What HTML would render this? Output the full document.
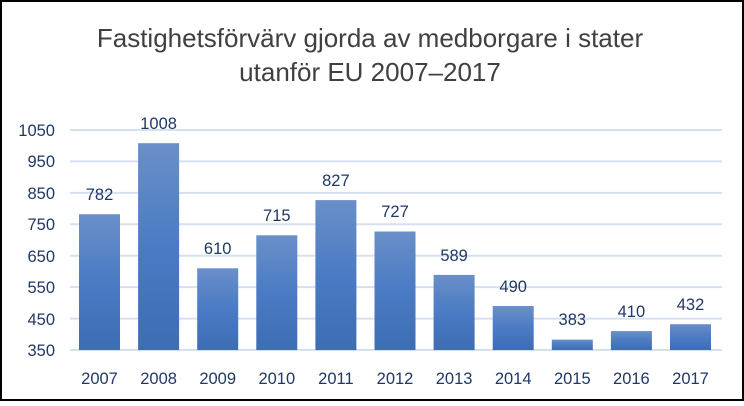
<!DOCTYPE html><html><head><style>body{margin:0}</style></head><body>
<svg width="744" height="401" xmlns="http://www.w3.org/2000/svg" font-family="Liberation Sans, sans-serif">
<defs><linearGradient id="g" x1="0" y1="0" x2="0" y2="1"><stop offset="0" stop-color="#6a8fc8"/><stop offset="0.5" stop-color="#4a7bc4"/><stop offset="1" stop-color="#3d6db3"/></linearGradient></defs>
<rect x="1" y="1" width="742" height="399" fill="#fff" stroke="#000" stroke-width="2"/>
<text x="370" y="47" text-anchor="middle" font-size="26" fill="#404040">Fastighetsförvärv gjorda av medborgare i stater</text>
<text x="370" y="81" text-anchor="middle" font-size="26" fill="#404040">utanför EU 2007–2017</text>
<g stroke="#d6e1f0" stroke-width="2">
<line x1="70" x2="722" y1="130" y2="130"/><line x1="70" x2="722" y1="161.4" y2="161.4"/><line x1="70" x2="722" y1="192.9" y2="192.9"/><line x1="70" x2="722" y1="224.3" y2="224.3"/><line x1="70" x2="722" y1="255.7" y2="255.7"/><line x1="70" x2="722" y1="287.1" y2="287.1"/><line x1="70" x2="722" y1="318.6" y2="318.6"/><line x1="70" x2="722" y1="350" y2="350"/>
</g>
<g font-size="16.5" fill="#1f3864" text-anchor="end">
<text x="55" y="136">1050</text><text x="55" y="167">950</text><text x="55" y="199">850</text><text x="55" y="230">750</text><text x="55" y="262">650</text><text x="55" y="293">550</text><text x="55" y="325">450</text><text x="55" y="356">350</text>
</g>
<g fill="url(#g)">
<rect x="79" y="214.2" width="41" height="135.8"/>
<rect x="138.1" y="143.2" width="41" height="206.8"/>
<rect x="197.2" y="268.3" width="41" height="81.7"/>
<rect x="256.3" y="235.3" width="41" height="114.7"/>
<rect x="315.4" y="200.1" width="41" height="149.9"/>
<rect x="374.5" y="231.5" width="41" height="118.5"/>
<rect x="433.6" y="274.9" width="41" height="75.1"/>
<rect x="492.7" y="306" width="41" height="44"/>
<rect x="551.8" y="339.6" width="41" height="10.4"/>
<rect x="610.9" y="331.1" width="41" height="18.9"/>
<rect x="670" y="324.2" width="41" height="25.8"/>
</g>
<g font-size="16.5" fill="#1f3864" text-anchor="middle">
<text x="99.5" y="200">782</text><text x="158.6" y="129">1008</text><text x="217.7" y="254">610</text><text x="276.8" y="221">715</text><text x="335.9" y="186">827</text><text x="395" y="217">727</text><text x="454.1" y="261">589</text><text x="513.2" y="292">490</text><text x="572.3" y="325">383</text><text x="631.4" y="317">410</text><text x="690.5" y="310">432</text>
<text x="99.5" y="384">2007</text><text x="158.6" y="384">2008</text><text x="217.7" y="384">2009</text><text x="276.8" y="384">2010</text><text x="335.9" y="384">2011</text><text x="395" y="384">2012</text><text x="454.1" y="384">2013</text><text x="513.2" y="384">2014</text><text x="572.3" y="384">2015</text><text x="631.4" y="384">2016</text><text x="690.5" y="384">2017</text>
</g>
</svg></body></html>
